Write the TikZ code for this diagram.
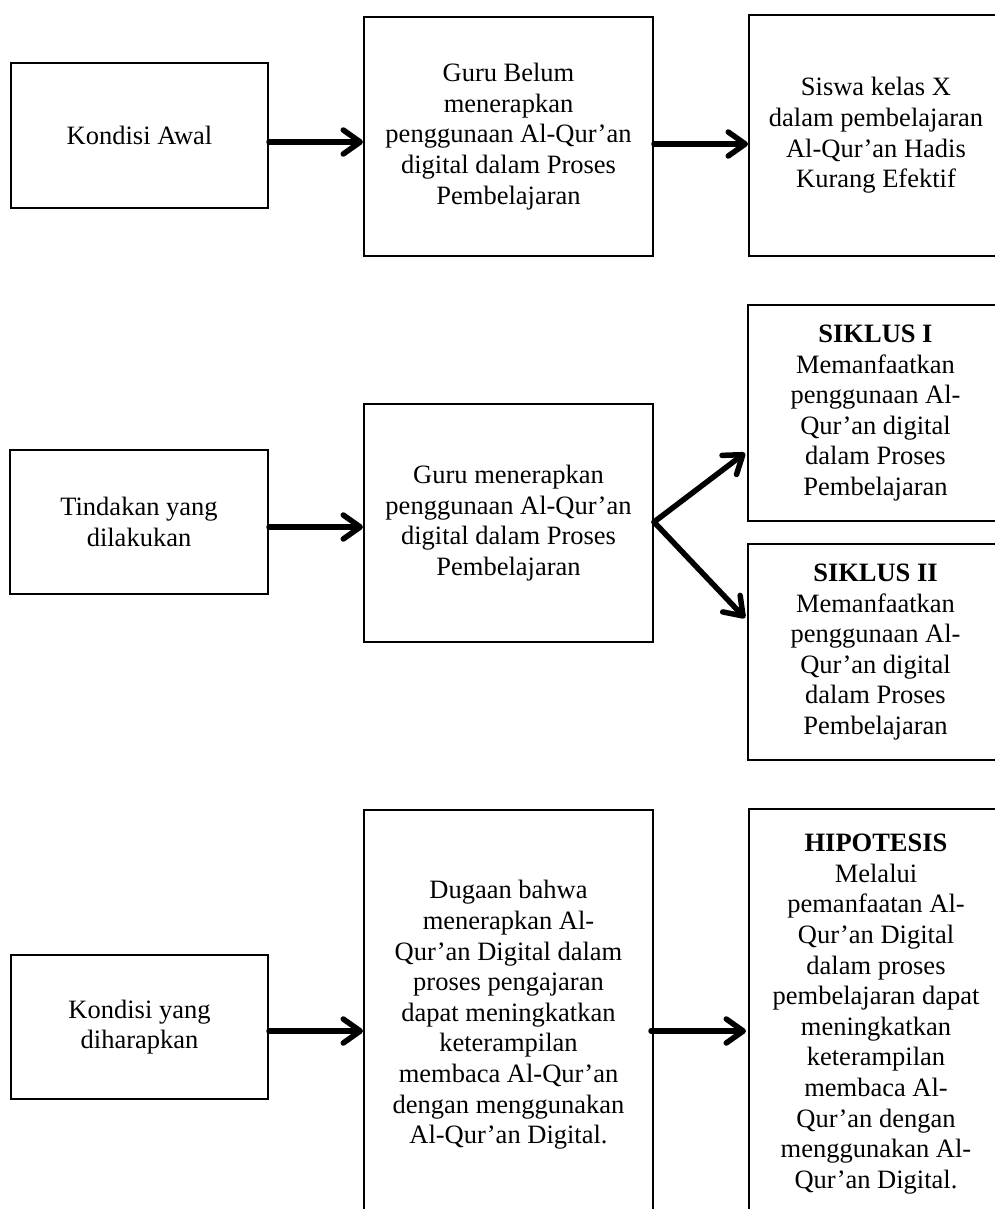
\documentclass[tikz,border=0pt]{standalone}
\usepackage{fontspec}
\setmainfont{Liberation Serif}
\usetikzlibrary{arrows.meta,calc}
\begin{document}
\begin{tikzpicture}[x=1pt,y=-1pt,
  box/.style={draw,line width=2pt,inner sep=0pt,align=center,
    font=\fontsize{26.5}{30.6}\selectfont},
  arr/.style={line width=5.5pt,line cap=round,
    -{Straight Barb[length=17pt,width=24pt,round]}}]
\clip (0,0) rectangle (995,1209);
\fill[white] (0,0) rectangle (995,1209);
% row 1
\node[box,minimum width=257pt,minimum height=145pt] (A) at (139.5,135.5) {Kondisi Awal};
\node[box,minimum width=289pt,minimum height=239pt] (B) at (508.5,136.5)
  {Guru Belum\\menerapkan\\penggunaan Al-Qur’an\\digital dalam Proses\\Pembelajaran};
\node[box,minimum width=254pt,minimum height=241pt] (C) at (876,135.5)
  {Siswa kelas X\\dalam pembelajaran\\Al-Qur’an Hadis\\Kurang Efektif};
% row 2
\node[box,minimum width=258pt,minimum height=144pt] (D) at (139,522) {Tindakan yang\\dilakukan};
\node[box,minimum width=289pt,minimum height=238pt] (E) at (508.5,523)
  {Guru menerapkan\\penggunaan Al-Qur’an\\digital dalam Proses\\Pembelajaran};
\node[box,minimum width=255pt,minimum height=216pt] (S1) at (875.5,413)
  {\textbf{SIKLUS I}\\Memanfaatkan\\penggunaan Al-\\Qur’an digital\\dalam Proses\\Pembelajaran};
\node[box,minimum width=255pt,minimum height=216pt] (S2) at (875.5,652)
  {\textbf{SIKLUS II}\\Memanfaatkan\\penggunaan Al-\\Qur’an digital\\dalam Proses\\Pembelajaran};
% row 3
\node[box,minimum width=257pt,minimum height=144pt] (F) at (139.5,1027) {Kondisi yang\\diharapkan};
\node[box,minimum width=289pt,minimum height=410pt] (G) at (508.5,1015)
  {Dugaan bahwa\\menerapkan Al-\\Qur’an Digital dalam\\proses pengajaran\\dapat meningkatkan\\keterampilan\\membaca Al-Qur’an\\dengan menggunakan\\Al-Qur’an Digital.};
\node[box,minimum width=254pt,minimum height=410pt] (H) at (876,1014)
  {\textbf{HIPOTESIS}\\Melalui\\pemanfaatan Al-\\Qur’an Digital\\dalam proses\\pembelajaran dapat\\meningkatkan\\keterampilan\\membaca Al-\\Qur’an dengan\\menggunakan Al-\\Qur’an Digital.};
% arrows
\draw[arr] ($(A.east)+(0,6.5)$) -- ($(B.west)+(0,5.5)$);
\draw[arr] ($(B.east)+(0,7.5)$) -- ($(C.west)+(0,8.5)$);
\draw[arr] ($(D.east)+(0,5)$) -- ($(E.west)+(0,4)$);
\draw[arr] ($(E.east)+(0,-1)$) -- ($(S1.west)+(-2,40)$);
\draw[arr] ($(E.east)+(0,-1)$) -- ($(S2.west)+(-2,-34)$);
\draw[arr] ($(F.east)+(0,4)$) -- ($(G.west)+(0,16)$);
\draw[arr] ($(G.east)+(-3,16)$) -- ($(H.west)+(-2,17)$);
\end{tikzpicture}
\end{document}
